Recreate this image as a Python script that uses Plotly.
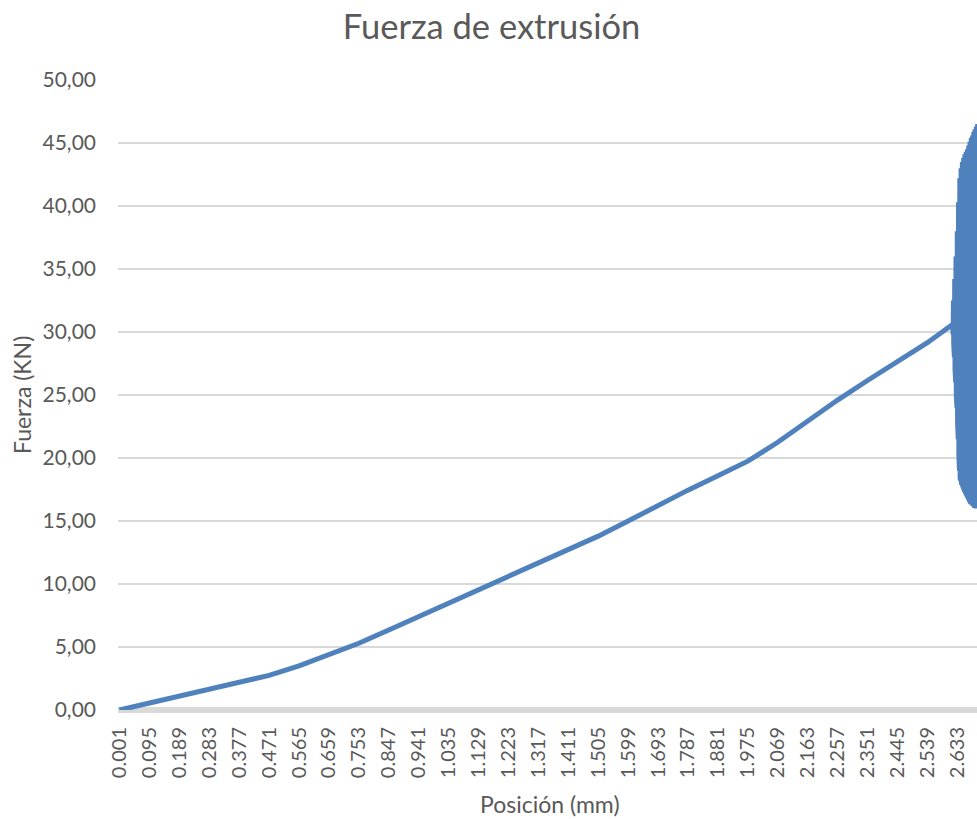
import plotly.graph_objects as go

# Extrusion test: ram position (mm) vs. extrusion force (kN)
position_mm = [0.001, 0.095, 0.189, 0.283, 0.377, 0.471, 0.565, 0.659, 0.753,
               0.847, 0.941, 1.035, 1.129, 1.223, 1.317, 1.411, 1.505, 1.599,
               1.693, 1.787, 1.881, 1.975, 2.069, 2.163, 2.257, 2.351, 2.445,
               2.539, 2.618]
force_kn = [0.00, 0.55, 1.15, 1.70, 2.20, 2.75, 3.50, 4.35, 5.30,
            6.35, 7.40, 8.50, 9.55, 10.60, 11.65, 12.70, 13.80, 15.00,
            16.25, 17.45, 18.60, 19.75, 21.25, 22.95, 24.60, 26.15, 27.65,
            29.15, 30.60]

# Unstable end of the stroke: readings every 0.001 mm swinging high/low
unstable_start = 2.619
unstable_force = [31.5, 29.8, 32.5, 29.0, 33.3, 28.0, 34.2, 27.0, 35.0, 26.0,
                  36.0, 25.0, 37.0, 24.0, 38.0, 22.8, 39.2, 21.5, 40.3, 20.2,
                  41.3, 19.0, 42.2, 18.4, 42.8, 18.2, 43.0, 18.0, 43.3, 17.9,
                  43.5, 17.8, 43.7, 17.6, 43.8, 17.5, 44.0, 17.4, 44.1, 17.3,
                  44.2, 17.2, 44.3, 17.1, 44.4, 17.0, 44.5, 16.9, 44.6, 16.8,
                  44.8, 16.7, 45.0, 16.6, 45.1, 16.5, 45.3, 16.4, 45.4, 16.3,
                  45.5, 16.3, 45.6, 16.2, 45.8, 16.2, 45.9, 16.2, 46.0, 16.1,
                  46.1, 16.1, 46.2, 16.1, 46.3, 16.0, 46.4, 16.0, 46.5]
unstable_pos = [round(unstable_start + 0.001 * i, 3) for i in range(len(unstable_force))]

# Category labels shown on the x axis
x_tick_labels = ["0.001", "0.095", "0.189", "0.283", "0.377", "0.471", "0.565",
                 "0.659", "0.753", "0.847", "0.941", "1.035", "1.129", "1.223",
                 "1.317", "1.411", "1.505", "1.599", "1.693", "1.787", "1.881",
                 "1.975", "2.069", "2.163", "2.257", "2.351", "2.445", "2.539",
                 "2.633"]
y_tick_values = [0, 5, 10, 15, 20, 25, 30, 35, 40, 45, 50]
y_tick_labels = ["0,00", "5,00", "10,00", "15,00", "20,00", "25,00", "30,00",
                 "35,00", "40,00", "45,00", "50,00"]

FONT = "Lato"
TEXT = "#595959"
GRID = "#D9D9D9"
LINE = "#4F81BD"

fig = go.Figure()
fig.add_trace(go.Scatter(
    x=position_mm + unstable_pos,
    y=force_kn + unstable_force,
    mode="lines",
    line=dict(color=LINE, width=5),
    hoverinfo="x+y",
    showlegend=False,
))

W, H = 977, 819
L, R, T, B = 118, 0, 80, 109
px_per_mm = 318.3
x0 = 0.001 - 1.5 / px_per_mm
x1 = x0 + (W - L - R) / px_per_mm

fig.update_layout(
    width=W, height=H,
    margin=dict(l=L, r=R, t=T, b=B, pad=0),
    paper_bgcolor="white",
    plot_bgcolor="white",
    font=dict(family=FONT, color=TEXT),
    title=dict(text="Fuerza de extrusión", x=491.5 / W, xanchor="center",
               y=1 - 27 / H, yanchor="middle",
               font=dict(family=FONT, size=34.5, color=TEXT)),
    xaxis=dict(
        range=[x0, x1],
        tickmode="array",
        tickvals=[float(t) for t in x_tick_labels],
        ticktext=x_tick_labels,
        tickangle=-90,
        tickfont=dict(family=FONT, size=20, color=TEXT),
        showgrid=False,
        zeroline=False,
        showline=False,
        ticks="",
        ticklabelstandoff=12,
    ),
    yaxis=dict(
        range=[0, 50],
        tickmode="array",
        tickvals=y_tick_values,
        ticktext=y_tick_labels,
        tickfont=dict(family=FONT, size=21, color=TEXT),
        showgrid=True,
        gridcolor=GRID,
        gridwidth=2,
        zeroline=True,
        zerolinecolor=GRID,
        zerolinewidth=6,
        showline=False,
        ticks="",
        ticklabelstandoff=21,
    ),
    annotations=[
        dict(text="Fuerza (KN)", xref="paper", yref="paper",
             x=(22 - L) / (W - L - R), y=0.5, xanchor="center", yanchor="middle",
             textangle=-90, showarrow=False,
             font=dict(family=FONT, size=23, color=TEXT)),
        dict(text="Posición (mm)", xref="paper", yref="paper",
             x=(550 - L) / (W - L - R), y=(710 - 804) / (H - T - B),
             xanchor="center", yanchor="middle", showarrow=False,
             font=dict(family=FONT, size=23, color=TEXT)),
    ],
)

fig.write_html("out.html")
